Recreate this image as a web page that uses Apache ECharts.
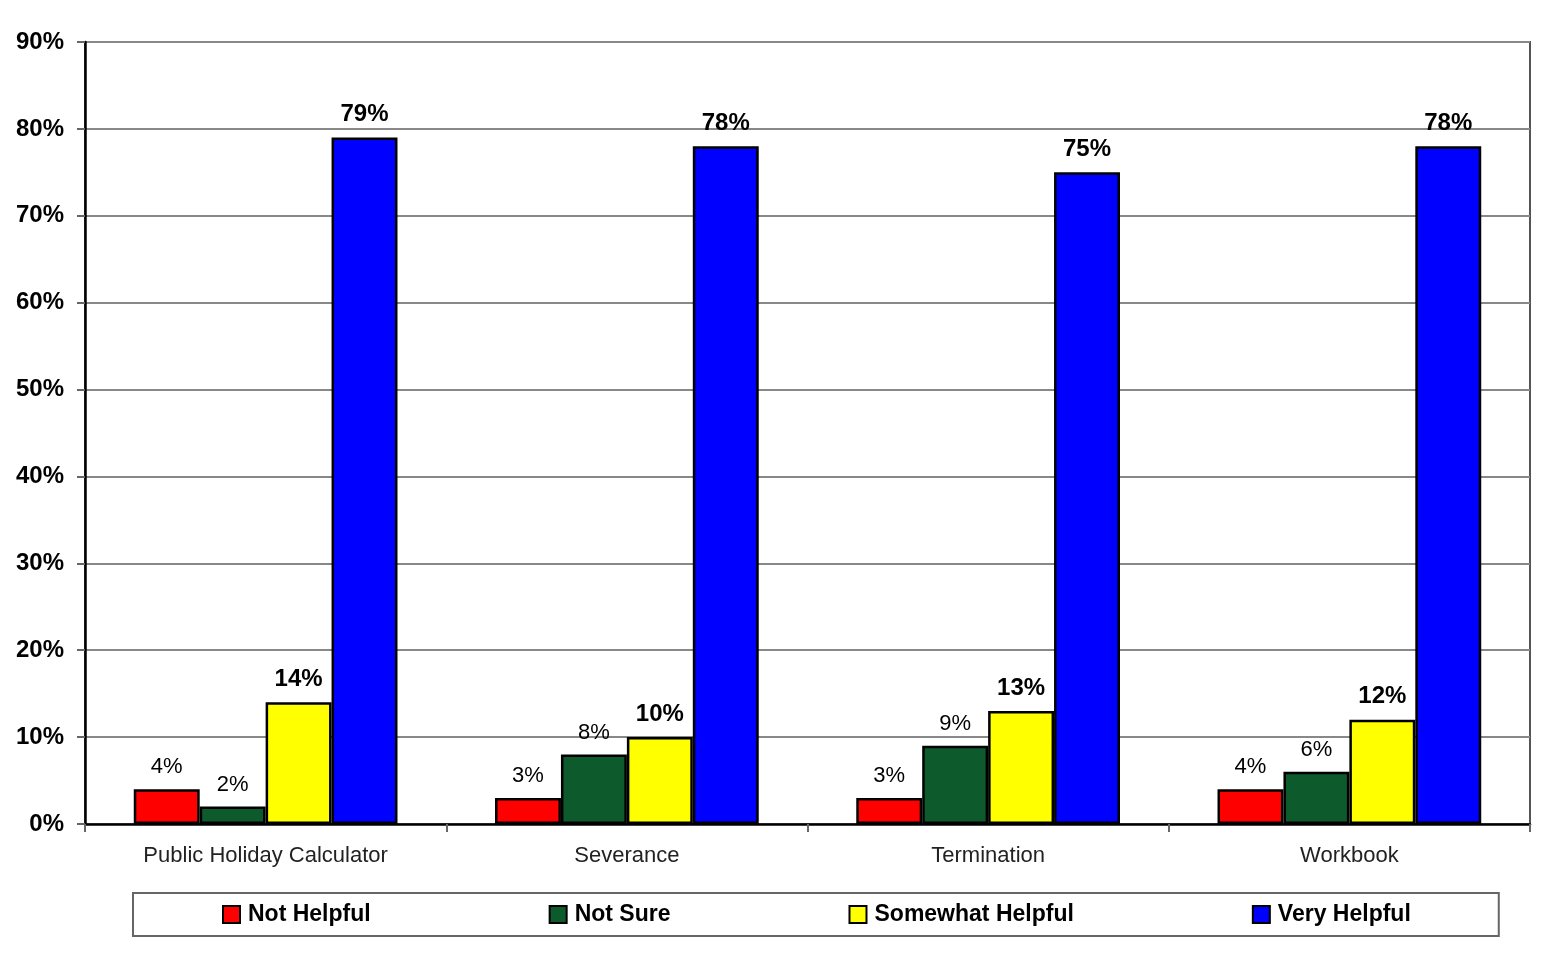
<!DOCTYPE html>
<html>
<head>
<meta charset="utf-8">
<script src="https://cdn.jsdelivr.net/npm/echarts@6/dist/echarts.min.js"></script>
<style>
  html, body { margin: 0; padding: 0; background: #fff; }
  #chart { width: 1544px; height: 965px; }
</style>
</head>
<body>
<div id="chart"></div>
<script>
// categories and series values (percent)
const categories = ['Public Holiday Calculator', 'Severance', 'Termination', 'Workbook']
const notHelpful = [4, 3, 3, 4]
const notSure = [2, 8, 9, 6]
const somewhatHelpful = [14, 10, 13, 12]
const veryHelpful = [79, 78, 75, 78]

const font = '"Liberation Sans", Arial, sans-serif'

function makeSeries(name, data, color, bold) {
  return {
    name: name,
    type: 'bar',
    data: data,
    barGap: '0%',
    barCategoryGap: '27%',
    itemStyle: { color: color, borderColor: '#000', borderWidth: 2.5 },
    label: {
      show: true,
      position: 'top',
      distance: 11,
      formatter: '{c}%',
      color: '#000',
      fontFamily: font,
      fontSize: bold ? 24 : 22,
      fontWeight: bold ? 'bold' : 'normal'
    }
  }
}

const myChart = echarts.init(document.getElementById('chart'))
myChart.setOption({
  animation: false,
  backgroundColor: '#fff',
  grid: {
    left: 85, right: 14, top: 42, bottom: 141,
    show: true, borderColor: '#555', borderWidth: 2
  },
  legend: {
    left: 133, top: 893,
    padding: [10, 88, 10, 89],
    itemGap: 178,
    itemWidth: 17, itemHeight: 17,
    icon: 'rect',
    borderColor: '#666', borderWidth: 2,
    textStyle: { fontFamily: font, fontSize: 23, fontWeight: 'bold', color: '#000', padding: [0, 0, 0, 3] }
  },
  xAxis: {
    type: 'category',
    data: categories,
    axisLine: { lineStyle: { color: '#000', width: 2.5 } },
    axisTick: { show: true, length: 8, lineStyle: { color: '#666', width: 2 } },
    axisLabel: { fontFamily: font, fontSize: 22, color: '#222', margin: 21 }
  },
  yAxis: {
    type: 'value',
    min: 0, max: 90, interval: 10,
    axisLine: { show: true, lineStyle: { color: '#000', width: 2.5 } },
    axisTick: { show: true, length: 8, lineStyle: { color: '#666', width: 2 } },
    splitLine: { lineStyle: { color: '#888', width: 2 } },
    axisLabel: { formatter: '{value}%', fontFamily: font, fontSize: 24, fontWeight: 'bold', color: '#000', margin: 21 }
  },
  series: [
    makeSeries('Not Helpful', notHelpful, '#FF0000', false),
    makeSeries('Not Sure', notSure, '#0D5B2C', false),
    makeSeries('Somewhat Helpful', somewhatHelpful, '#FFFF00', true),
    makeSeries('Very Helpful', veryHelpful, '#0000FF', true)
  ]
})
</script>
</body>
</html>
